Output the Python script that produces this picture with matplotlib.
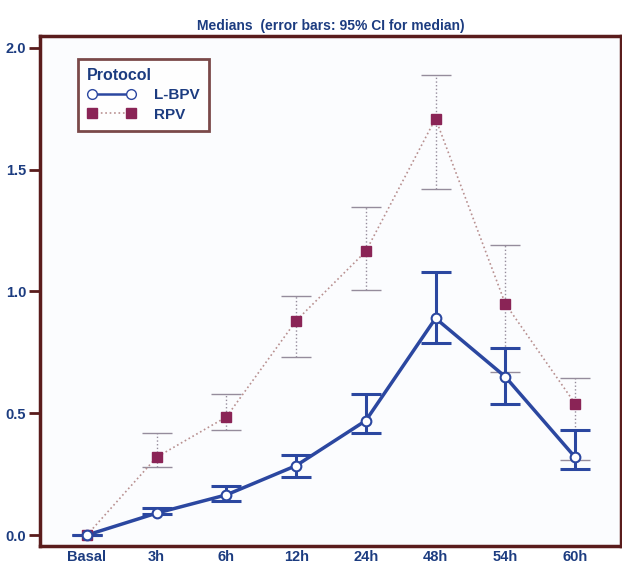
import numpy as np
import matplotlib.pyplot as plt

plt.rcParams['font.family'] = ['Liberation Sans', 'DejaVu Sans']

timepoints = ['Basal', '3h', '6h', '12h', '24h', '48h', '54h', '60h']

# medians with 95% CI bounds
lbpv_med = [0.0, 0.09, 0.165, 0.285, 0.47, 0.89, 0.65, 0.32]
lbpv_lo = [0.0, 0.085, 0.14, 0.24, 0.42, 0.79, 0.54, 0.27]
lbpv_hi = [0.0, 0.11, 0.20, 0.33, 0.58, 1.08, 0.77, 0.43]

rpv_med = [0.0, 0.32, 0.485, 0.88, 1.165, 1.71, 0.95, 0.54]
rpv_lo = [0.0, 0.28, 0.43, 0.73, 1.005, 1.42, 0.67, 0.31]
rpv_hi = [0.0, 0.42, 0.58, 0.98, 1.345, 1.89, 1.19, 0.645]

navy = '#1c3c80'
blue = '#2b47a0'
maroon = '#8a2456'
frame = '#5a1c1c'

x = np.arange(len(timepoints))

fig = plt.figure(figsize=(6.22, 5.69), dpi=100)
ax = fig.add_axes([40 / 622, 1 - 546 / 569, 581 / 622, 510 / 569])

rpv_err = [np.array(rpv_med) - np.array(rpv_lo), np.array(rpv_hi) - np.array(rpv_med)]
eb = ax.errorbar(x, rpv_med, yerr=rpv_err, fmt='none', ecolor='#958c9c',
                 elinewidth=1.0, capsize=11, capthick=1.0, zorder=2)
for c in eb[2]:
    c.set_linestyle(':')
ax.plot(x, rpv_med, ls=':', color='#b89090', lw=1.2, zorder=2)
ax.plot(x, rpv_med, ls='none', marker='s', ms=7.5, mfc=maroon, mec=maroon, zorder=4)

lbpv_err = [np.array(lbpv_med) - np.array(lbpv_lo), np.array(lbpv_hi) - np.array(lbpv_med)]
ax.errorbar(x, lbpv_med, yerr=lbpv_err, fmt='none', ecolor=blue,
            elinewidth=2.2, capsize=11, capthick=2.2, zorder=3)
ax.plot(x, lbpv_med, color=blue, lw=2.5, zorder=3)
ax.plot(x, lbpv_med, ls='none', marker='o', ms=7, mfc='white', mec=blue, mew=1.5, zorder=5)

ax.set_xlim(-0.674, 7.66)
ax.set_ylim(-0.045, 2.049)
ax.set_yticks([0.0, 0.5, 1.0, 1.5, 2.0])
ax.set_yticklabels(['0.0', '0.5', '1.0', '1.5', '2.0'])
ax.set_xticks(x)
ax.set_xticklabels(timepoints)
ax.tick_params(axis='y', direction='out', length=8, width=2, color=frame,
               labelcolor=navy, labelsize=10.5, pad=2)
ax.tick_params(axis='x', length=0, labelcolor=navy, labelsize=10.5, pad=3)
for lab in ax.get_xticklabels() + ax.get_yticklabels():
    lab.set_fontweight('bold')
for s in ax.spines.values():
    s.set_color(frame)
    s.set_linewidth(2.5)
ax.set_facecolor('#fbfcfe')

ax.set_title('Medians  (error bars: 95% CI for median)', color=navy,
             fontsize=10, fontweight='bold', pad=4)

# legend
l1, = ax.plot([], [], color=blue, lw=1.8, marker='o', ms=7, mfc='white', mec=blue)
l2, = ax.plot([], [], color='#b89090', ls=':', lw=1.2, marker='s', ms=7.5, mfc=maroon, mec=maroon)
leg = ax.legend([l1, l2], ['L-BPV', 'RPV'], title='Protocol', loc='upper left',
                bbox_to_anchor=(0.065, 0.955), borderaxespad=0, frameon=True,
                fancybox=False, numpoints=2, handlelength=3.2, borderpad=0.6,
                labelspacing=0.35, handletextpad=1.2,
                prop={'weight': 'bold', 'size': 11})
leg.get_title().set_fontweight('bold')
leg.get_title().set_color(navy)
leg.get_title().set_fontsize(11.5)
leg._legend_box.align = 'left'
for t in leg.get_texts():
    t.set_color(navy)
leg.get_frame().set_edgecolor(frame)
leg.get_frame().set_linewidth(2)

fig.savefig('out.png', dpi=100)
